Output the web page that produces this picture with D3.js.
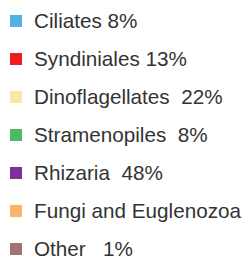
<!DOCTYPE html>
<html><head><meta charset="utf-8">
<script src="https://cdn.jsdelivr.net/npm/d3@7"></script>
<style>html,body{margin:0;padding:0;background:#fff;}</style>
</head><body>
<svg id="c" width="246" height="262"></svg>
<script>
const labels = ["Ciliates 8%", "Syndiniales 13%", "Dinoflagellates  22%", "Stramenopiles  8%", "Rhizaria  48%", "Fungi and Euglenozoa", "Other   1%"];
const colors = ["#56b0e4", "#ec1c24", "#f6e8a6", "#4dba6a", "#7a3396", "#f9b46c", "#9c7377"];

const svg = d3.select("#c");
const y = d3.scalePoint().domain(labels).range([21, 249]);
const g = svg.selectAll("g.item").data(labels).join("g")
  .attr("class", "item")
  .attr("transform", d => `translate(0,${y(d)})`);
g.append("rect")
  .attr("x", 10).attr("y", -6).attr("width", 12).attr("height", 12)
  .attr("fill", (d, i) => colors[i]);
g.append("text")
  .attr("x", 34).attr("y", 7.3)
  .attr("font-family", "Liberation Sans, Arial, Helvetica, sans-serif")
  .attr("font-size", 20.7)
  .attr("fill", "#333")
  .style("white-space", "pre")
  .attr("xml:space", "preserve")
  .text(d => d);
</script>
</body></html>
